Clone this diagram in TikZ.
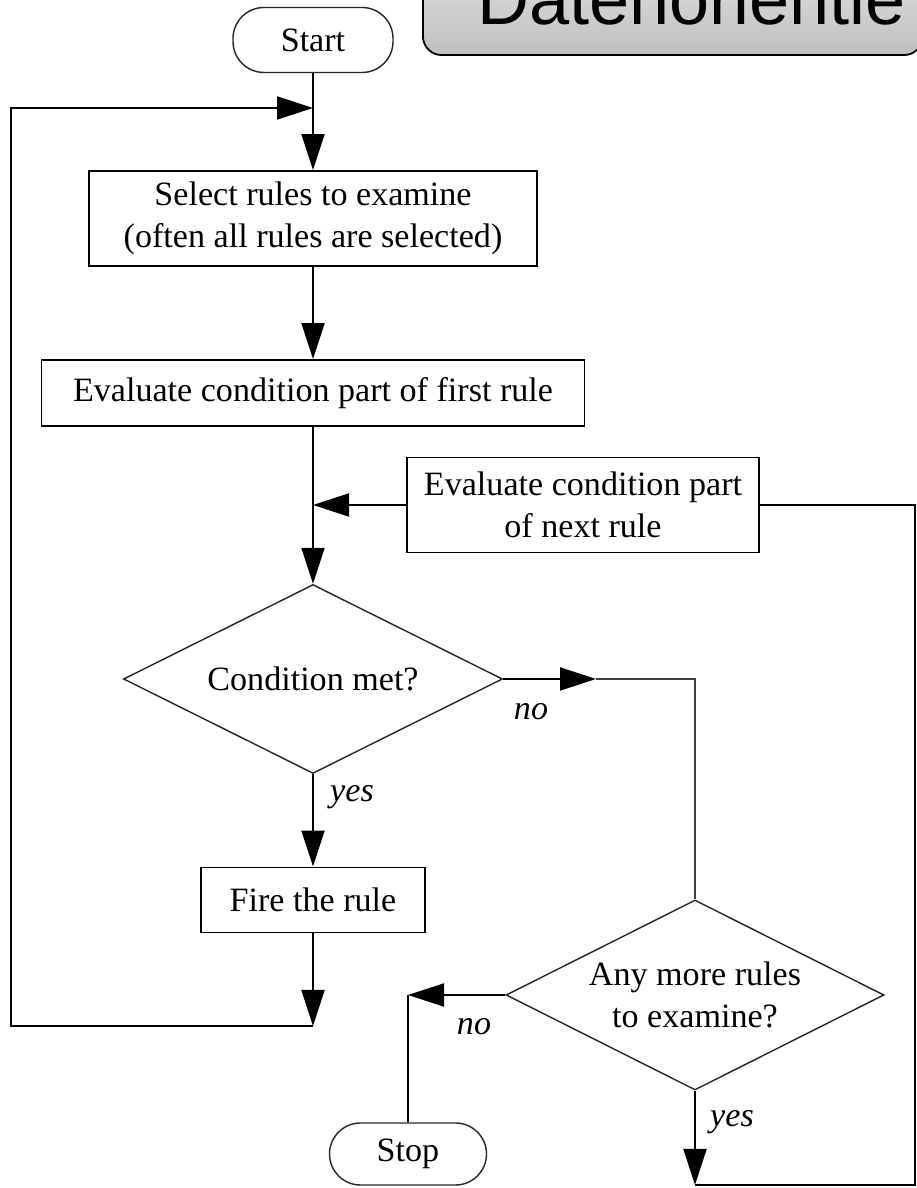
\documentclass[tikz,border=0pt]{standalone}
\usepackage{fontspec}
\setmainfont{Liberation Serif}
\newfontfamily\titlefont{Liberation Sans}
\usetikzlibrary{arrows.meta,shapes.geometric}

\begin{document}
\begin{tikzpicture}[
            every node/.style={font=\fontsize{19.4}{24}\selectfont},
            box/.style={draw, line width=1.1pt, inner sep=0pt, align=center},
            decision/.style={draw=black!85, diamond, aspect=2, line width=0.8pt, inner sep=0pt, align=center},
            terminal/.style={draw=black!85, rectangle, rounded corners=0.62cm, line width=0.8pt, inner sep=0pt},
            arr/.style={-{Triangle[length=0.72cm,width=0.46cm]}, line width=1.1pt},
            lbl/.style={font=\fontsize{19.4}{24}\selectfont\itshape}
        ]
            \useasboundingbox (0,0) rectangle (18.34,23.76);
            \clip (0,0) rectangle (18.34,23.76);

            \node[draw, line width=1pt, rounded corners=0.38cm, top color=gray!22, bottom color=gray!50, minimum width=10cm, minimum height=2cm, anchor=south west] (Title Box) at (8.44,22.64) {};
            \node[anchor=base west, inner sep=0pt, font=\titlefont\fontsize{41}{41}\selectfont] (Title) at (9.54,23.26) {Datenorientie};

            \node[terminal, minimum width=3.2cm, minimum height=1.3cm] (Start) at (6.26,22.96) {Start};
            \node[box, minimum width=8.96cm, minimum height=1.9cm] (Select) at (6.26,19.39) {Select rules to examine\\(often all rules are selected)};
            \node[box, minimum width=10.86cm, minimum height=1.32cm] (First Rule) at (6.26,15.9) {Evaluate condition part of first rule};
            \node[box, minimum width=7.04cm, minimum height=1.9cm] (Next Rule) at (11.66,13.66) {Evaluate condition part\\of next rule};
            \node[decision, minimum width=7.58cm, minimum height=3.78cm] (Condition) at (6.26,10.18) {Condition met?};
            \node[box, minimum width=4.48cm, minimum height=1.3cm] (Fire) at (6.26,5.76) {Fire the rule};
            \node[decision, minimum width=7.56cm, minimum height=3.8cm] (More Rules) at (13.9,3.86) {Any more rules\\to examine?};
            \node[terminal, minimum width=3.14cm, minimum height=1.24cm] (Stop) at (8.16,0.68) {Stop};

            \coordinate (Loop Top) at (6.26,21.6);
            \coordinate (Loop Bottom) at (6.26,3.24);
            \coordinate (Join) at (6.26,13.66);
            \coordinate (No Tip) at (11.92,10.18);
            \coordinate (No Corner) at (13.9,10.18);
            \coordinate (Stop Corner) at (8.16,3.86);
            \coordinate (Yes Corner) at (13.9,0.06);

            \node[lbl] (No One) at (10.62,9.52) {no};
            \node[lbl] (Yes One) at (7.04,7.82) {yes};
            \node[lbl] (No Two) at (9.48,3.22) {no};
            \node[lbl] (Yes Two) at (14.64,1.32) {yes};

            \draw[arr] (Start) to (Select);
            \draw[arr] (Loop Bottom) -- ++(-6.04,0) |- (Loop Top);
            \draw[arr] (Select) to (First Rule);
            \draw[arr] (First Rule) to (Condition);
            \draw[arr] (Next Rule) to (Join);
            \draw[arr] (Condition) to (Fire);
            \draw[arr] (Fire) to (Loop Bottom);
            \draw[arr] (Condition) to (No Tip);
            \draw[line width=0.7pt, draw=black!75] (No Tip) -- (No Corner) -- (More Rules);
            \draw[arr] (More Rules) to (Stop Corner);
            \draw[line width=1.1pt] (Stop Corner) -- (Stop);
            \draw[arr] (More Rules) to (Yes Corner);
            \draw[line width=1pt] (Yes Corner) -- ++(4.4,0) |- (Next Rule);
        \end{tikzpicture}
\end{document}
